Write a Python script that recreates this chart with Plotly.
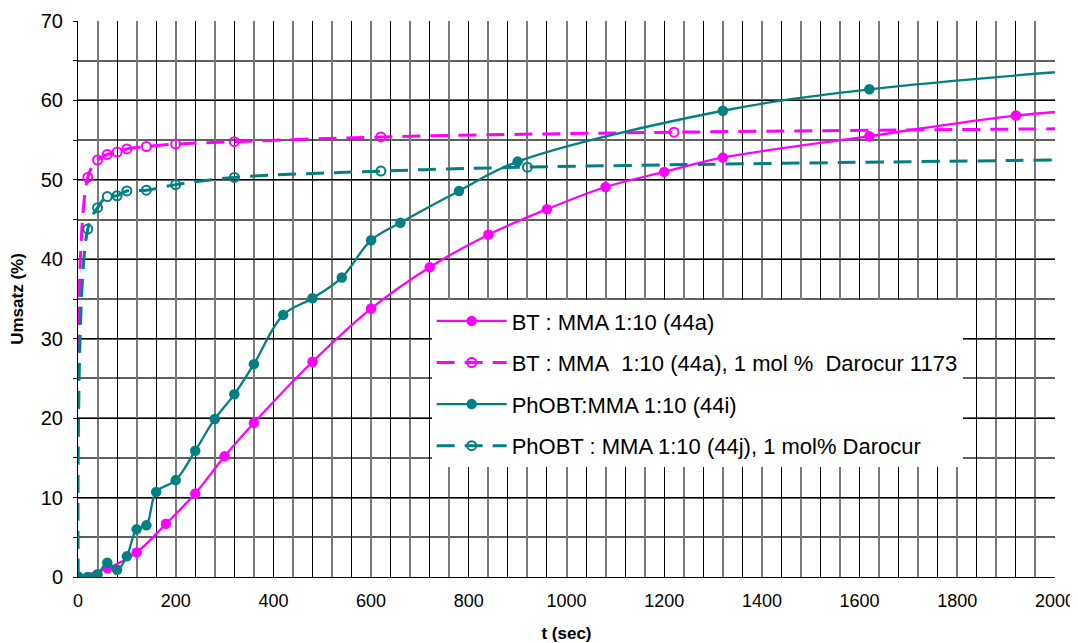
import plotly.graph_objects as go

# ---- data ----
# BT : MMA 1:10 (44a)
t_bt = [0, 60, 120, 180, 240, 300, 360, 480, 600, 720, 840, 960, 1080, 1200, 1320, 1620, 1920, 2220]
u_bt = [0, 1.1, 3.1, 6.7, 10.5, 15.2, 19.4, 27.1, 33.8, 39.0, 43.1, 46.3, 49.1, 51.0, 52.8, 55.5, 58.1, 59.4]

# BT : MMA 1:10 (44a), 1 mol % Darocur 1173
t_bt_d = [0, 20, 40, 60, 80, 100, 140, 200, 320, 620, 1220, 2420]
u_bt_d = [0, 50.3, 52.5, 53.2, 53.5, 53.9, 54.2, 54.5, 54.8, 55.4, 56.0, 56.6]

# PhOBT:MMA 1:10 (44i)
t_ph = [0, 20, 40, 60, 80, 100, 120, 140, 160, 200, 240, 280, 320, 360, 420, 480, 540, 600,
        660, 780, 900, 1320, 1620, 2220]
u_ph = [0, 0, 0.35, 1.8, 0.9, 2.6, 6.0, 6.5, 10.7, 12.2, 15.9, 19.9, 23.0, 26.8, 33.0, 35.1, 37.7, 42.4,
        44.6, 48.6, 52.3, 58.7, 61.4, 64.6]

# PhOBT : MMA 1:10 (44j), 1 mol% Darocur
t_ph_d = [0, 20, 40, 60, 80, 100, 140, 200, 320, 620, 920, 2420]
u_ph_d = [0, 43.8, 46.5, 47.9, 48.0, 48.6, 48.7, 49.4, 50.3, 51.1, 51.6, 52.8]

names = [
    "BT : MMA 1:10 (44a)",
    "BT : MMA\u00a0 1:10 (44a), 1 mol %\u00a0 Darocur 1173",
    "PhOBT:MMA 1:10 (44i)",
    "PhOBT : MMA 1:10 (44j), 1 mol% Darocur",
]

x_labels = list(range(0, 2001, 200))
y_labels = list(range(0, 71, 10))
x_grid_black = list(range(0, 2001, 80))
x_grid_grey = list(range(40, 2001, 80))

MAG = "#FF00FF"
TEAL = "#008080"
FONT = "Arial, Liberation Sans, sans-serif"

fig = go.Figure()

fig.add_trace(go.Scatter(x=t_bt, y=u_bt, name=names[0], mode="lines+markers",
                         line=dict(color=MAG, width=2.3, shape="spline", smoothing=1),
                         marker=dict(symbol="circle", size=10.5, color=MAG),
                         legendgroup="a"))
fig.add_trace(go.Scatter(x=t_bt_d, y=u_bt_d, name=names[1], mode="lines+markers",
                         line=dict(color=MAG, width=3, dash="18px,10px", shape="spline", smoothing=1),
                         marker=dict(symbol="circle-open", size=9, color=MAG, line=dict(width=2)),
                         legendgroup="b"))
fig.add_trace(go.Scatter(x=t_ph, y=u_ph, name=names[2], mode="lines+markers",
                         line=dict(color=TEAL, width=2.3, shape="spline", smoothing=1),
                         marker=dict(symbol="circle", size=10.5, color=TEAL),
                         legendgroup="c"))
fig.add_trace(go.Scatter(x=t_ph_d, y=u_ph_d, name=names[3], mode="lines+markers",
                         line=dict(color=TEAL, width=3, dash="18px,10px", shape="spline", smoothing=1),
                         marker=dict(symbol="circle-open", size=9, color=TEAL, line=dict(width=2)),
                         legendgroup="d"))
# empty helper trace so the grid axis x2 is instantiated
fig.add_trace(go.Scatter(x=[], y=[], xaxis="x2", showlegend=False, hoverinfo="skip"))

fig.update_layout(
    width=1070, height=635,
    margin=dict(l=70, r=23, t=13, b=66, autoexpand=False),
    paper_bgcolor="white", plot_bgcolor="white",
    font=dict(family=FONT, color="black"),
    showlegend=True,
    legend=dict(x=0.362, y=0.498, xanchor="left", yanchor="top",
                bgcolor="white", borderwidth=0,
                font=dict(size=22, family=FONT, color="black"),
                itemwidth=70, tracegroupgap=10, traceorder="grouped"),
    xaxis=dict(range=[0, 2000], tickmode="array", tickvals=x_labels,
               ticktext=[str(v) for v in x_labels], automargin=False,
               showgrid=False, zeroline=False, showline=True, linecolor="black", linewidth=1,
               ticks="", tickfont=dict(size=18, family=FONT), ticklabelstandoff=7,
               title=dict(text="<b>t (sec)</b>", font=dict(size=17, family=FONT), standoff=17)),
    xaxis2=dict(range=[0, 2000], overlaying="x", anchor="y", side="bottom", automargin=False,
                tickmode="array", tickvals=x_grid_black, showticklabels=False, ticks="",
                showgrid=True, gridcolor="black", gridwidth=1, zeroline=False, showline=False,
                minor=dict(tickmode="array", tickvals=x_grid_grey, showgrid=True,
                           gridcolor="#7a7a7a", gridwidth=2, ticks="")),
    yaxis=dict(range=[0, 70], tickmode="array", tickvals=y_labels,
               ticktext=[str(v) for v in y_labels], automargin=False,
               showgrid=True, gridcolor="black", gridwidth=1, zeroline=False,
               showline=True, linecolor="black", linewidth=1,
               ticks="outside", ticklen=4, tickcolor="black",
               tickfont=dict(size=20, family=FONT), ticklabelstandoff=6,
               minor=dict(dtick=5, tick0=0, showgrid=True, gridcolor="#606060", gridwidth=1.5,
                          ticks="outside", ticklen=4, tickcolor="black"),
               title=dict(text="<b>Umsatz (%)</b>", font=dict(size=17, family=FONT), standoff=14)),
)

fig.write_html("out.html")
